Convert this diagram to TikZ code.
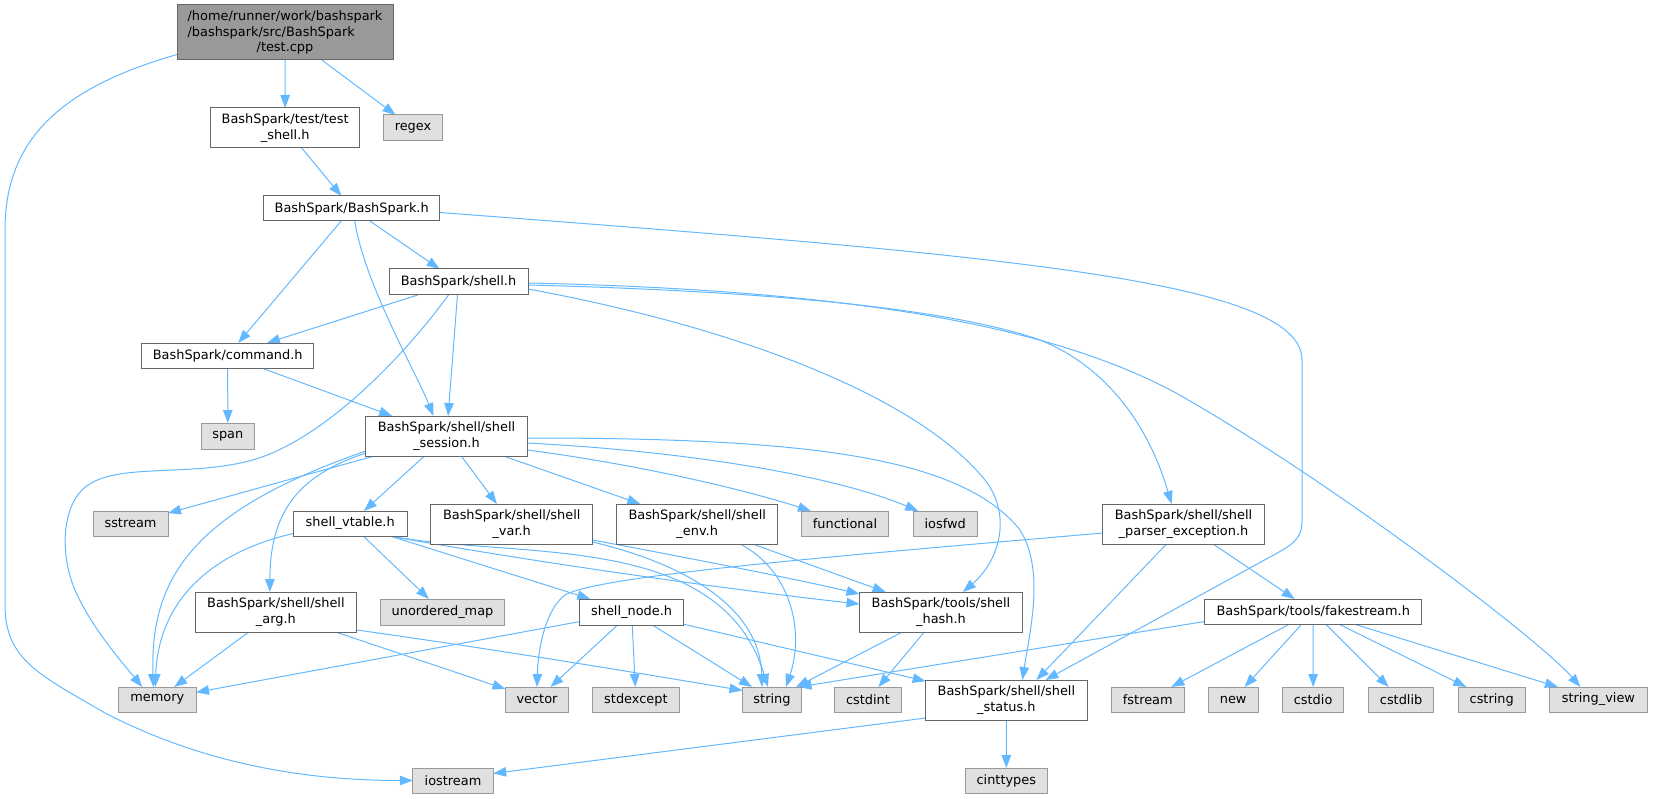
\documentclass[tikz,border=0pt]{standalone}
\usepackage{fontspec}
\setmainfont{DejaVu Sans}
\usetikzlibrary{arrows.meta}
\definecolor{edgeblue}{HTML}{63B8FF}
\definecolor{grayforty}{HTML}{666666}
\definecolor{graysixty}{HTML}{999999}
\definecolor{extfill}{HTML}{E0E0E0}
\pgfdeclarelayer{bg}
\pgfsetlayers{bg,main}
\begin{document}
\begin{tikzpicture}[x=1pt,y=-1pt,
  every node/.style={font=\fontsize{12.9}{15.4}\selectfont, inner sep=0pt, outer sep=0pt, line width=1pt, align=center},
  intf/.style={draw=grayforty, fill=white},
  extf/.style={draw=graysixty, fill=extfill},
  rootf/.style={draw=grayforty, fill=graysixty},
  wh/.style 2 args={minimum width=#1pt, minimum height=#2pt},
  dep/.style={draw=edgeblue, line width=1pt, -{Triangle[length=13pt,width=9.5pt]}}
]
\useasboundingbox (0,0) rectangle (1653,799);
% nodes
\node[rootf, wh={216}{55}] (ntest) at (285,32.5) {/home/runner/work/bashspark\\\rlap{/bashspark/src/BashSpark}\phantom{/home/runner/work/bashspark}\\/test.cpp};
\node[intf, wh={149.5}{40}] (ntestshell) at (285.2,128) {BashSpark/test/test\\\_shell.h};
\node[extf, wh={59}{26}] (nregex) at (413,128) {regex};
\node[intf, wh={176}{25}] (nbashspark) at (351.7,208.5) {BashSpark/BashSpark.h};
\node[intf, wh={139}{26}] (nshell) at (458.5,282) {BashSpark/shell.h};
\node[intf, wh={172}{25}] (ncommand) at (227.7,355.5) {BashSpark/command.h};
\node[intf, wh={161.5}{40}] (nsession) at (446.5,436) {BashSpark/shell/shell\\\_session.h};
\node[extf, wh={53.6}{26}] (nspan) at (227.8,436) {span};
\node[extf, wh={75}{25}] (nsstream) at (130.5,523.5) {sstream};
\node[intf, wh={114}{25}] (nvtable) at (350.2,523.5) {shell\_vtable.h};
\node[intf, wh={161.5}{40}] (nvar) at (511.7,524) {BashSpark/shell/shell\\\_var.h};
\node[intf, wh={161.5}{40}] (nenv) at (697.2,524) {BashSpark/shell/shell\\\_env.h};
\node[extf, wh={86.4}{25}] (nfunctional) at (845,523.5) {functional};
\node[extf, wh={64}{25}] (niosfwd) at (945.2,523.5) {iosfwd};
\node[intf, wh={161.7}{40}] (nparser) at (1183.5,524) {BashSpark/shell/shell\\\_parser\_exception.h};
\node[intf, wh={161.7}{40}] (narg) at (275.9,612) {BashSpark/shell/shell\\\_arg.h};
\node[extf, wh={124.5}{26}] (numap) at (442.5,612) {unordered\_map};
\node[intf, wh={104.6}{26}] (nsnode) at (631.6,612) {shell\_node.h};
\node[intf, wh={163}{40}] (nhash) at (941,612) {BashSpark/tools/shell\\\_hash.h};
\node[intf, wh={217}{25}] (nfake) at (1313.2,611.5) {BashSpark/tools/fakestream.h};
\node[extf, wh={77.5}{25}] (nmemory) at (157.3,699.5) {memory};
\node[extf, wh={63}{25}] (nvector) at (537,699.5) {vector};
\node[extf, wh={86.8}{25}] (nstdexcept) at (635.9,699.5) {stdexcept};
\node[extf, wh={59}{25}] (nstring) at (772,699.5) {string};
\node[extf, wh={67}{25}] (ncstdint) at (868,699.5) {cstdint};
\node[intf, wh={161.4}{40}] (nstatus) at (1006.4,700) {BashSpark/shell/shell\\\_status.h};
\node[extf, wh={73.5}{25}] (nfstream) at (1147.8,699.5) {fstream};
\node[extf, wh={49.6}{25}] (nnew) at (1233.2,699.5) {new};
\node[extf, wh={61.6}{25}] (ncstdio) at (1313.1,699.5) {cstdio};
\node[extf, wh={65}{25}] (ncstdlib) at (1401.1,699.5) {cstdlib};
\node[extf, wh={66.7}{25}] (ncstring) at (1491.7,699.5) {cstring};
\node[extf, wh={97.3}{25}] (nsview) at (1598.4,699.5) {string\_view};
\node[extf, wh={80.4}{25}] (niostream) at (453,780.5) {iostream};
\node[extf, wh={82.5}{25}] (ncinttypes) at (1006.3,780.5) {cinttypes};
% edges
\begin{pgfonlayer}{bg}
\draw[dep] ([yshift=-22]ntest.west) .. controls (60,88) and (5,140) .. (5,230) -- (5,605) .. controls (5,660) and (40,675) .. (105,713) .. controls (200,762) and (300,780.5) .. (niostream.west);
\draw[dep] (ntest) -- (ntestshell);
\draw[dep] (ntest) -- (nregex);
\draw[dep] (ntestshell) -- (nbashspark);
\draw[dep] (nbashspark) -- (ncommand);
\draw[dep] ([xshift=3]nbashspark.south) .. controls (365,285) and (415,370) .. ([xshift=-13]nsession.north);
\draw[dep] (nbashspark) -- (nshell);
\draw[dep] ([yshift=-4]nbashspark.east) .. controls (1000,255) and (1302,280) .. (1302,360) -- (1302,522) .. controls (1302,540) and (1290,546) .. (1270,557) -- ([xshift=39]nstatus.north);
\draw[dep] (nshell) -- (ncommand);
\draw[dep] ([xshift=-10]nshell.south) .. controls (405,355) and (320,445) .. (245,462) .. controls (180,477) and (110,462) .. (82,490) .. controls (62,510) and (60,555) .. (75,590) .. controls (90,625) and (120,660) .. ([xshift=-15]nmemory.north);
\draw[dep] (nshell) -- (nsession);
\draw[dep] ([yshift=-7]nshell.east) .. controls (750,330) and (920,400) .. (985,480) .. controls (1012,515) and (1000,560) .. ([xshift=22]nhash.north);
\draw[dep] ([yshift=-3]nshell.east) .. controls (800,292) and (960,312) .. (1040,340) .. controls (1110,368) and (1150,430) .. ([xshift=-12]nparser.north);
\draw[dep] ([yshift=-1]nshell.east) .. controls (850,290) and (1050,325) .. (1176,393) .. controls (1330,480) and (1540,640) .. ([xshift=-18]nsview.north);
\draw[dep] (ncommand) -- (nspan);
\draw[dep] (ncommand) -- (nsession);
\draw[dep] (nsession) -- (nsstream);
\draw[dep] ([yshift=-15]nsession.west) .. controls (190,512) and (150,580) .. ([xshift=-4]nmemory.north);
\draw[dep] ([yshift=-17]nsession.west) .. controls (300,475) and (270,510) .. ([xshift=-6]narg.north);
\draw[dep] (nsession) -- (nvtable);
\draw[dep] (nsession) -- (nvar);
\draw[dep] (nsession) -- (nenv);
\draw[dep] ([yshift=-14]nsession.east) .. controls (620,462) and (730,485) .. ([xshift=-34]nfunctional.north);
\draw[dep] ([yshift=-7]nsession.east) .. controls (700,452) and (840,478) .. ([xshift=-27]niosfwd.north);
\draw[dep] ([yshift=-2]nsession.east) .. controls (800,438) and (960,455) .. (1020,530) .. controls (1045,570) and (1030,630) .. ([xshift=16]nstatus.north);
\draw[dep] ([yshift=-10]nvtable.west) .. controls (200,555) and (158,610) .. ([xshift=-2]nmemory.north);
\draw[dep] (nvtable) -- (numap);
\draw[dep] (nvtable) -- (nsnode);
\draw[dep] ([xshift=39]nvtable.south) .. controls (520,560) and (720,530) .. ([xshift=-4]nstring.north);
\draw[dep] ([xshift=39]nvtable.south) .. controls (550,565) and (750,592) .. ([yshift=8]nhash.west);
\draw[dep] ([yshift=4]nvar.south east) .. controls (700,560) and (800,580) .. ([yshift=18]nhash.west);
\draw[dep] ([yshift=2]nvar.south east) .. controls (690,565) and (760,610) .. ([xshift=-10]nstring.north);
\draw[dep] (nenv) -- (nhash);
\draw[dep] ([xshift=43]nenv.south) .. controls (790,570) and (805,630) .. ([xshift=14]nstring.north);
\draw[dep] (narg) -- (nmemory);
\draw[dep] (narg) -- (nvector);
\draw[dep] ([yshift=-18]narg.east) .. controls (500,650) and (650,675) .. ([yshift=9]nstring.west);
\draw[dep] (nsnode) -- (nmemory);
\draw[dep] (nsnode) -- (nvector);
\draw[dep] (nsnode) -- (nstdexcept);
\draw[dep] (nsnode) -- (nstring);
\draw[dep] (nsnode) -- (nstatus);
\draw[dep] (nhash) -- (nstring);
\draw[dep] (nhash) -- (ncstdint);
\draw[dep] ([yshift=-18]nstatus.west) -- ([yshift=7]niostream.east);
\draw[dep] (nstatus) -- (ncinttypes);
\draw[dep] ([yshift=-9]nparser.west) .. controls (850,555) and (600,575) .. (565,595) .. controls (545,610) and (538,650) .. (nvector.north);
\draw[dep] ([xshift=-17]nparser.south) -- ([xshift=30]nstatus.north);
\draw[dep] (nparser) -- (nfake);
\draw[dep] ([yshift=-10]nfake.west) -- ([xshift=-3]nstring.north east);
\draw[dep] (nfake) -- (nfstream);
\draw[dep] (nfake) -- (nnew);
\draw[dep] (nfake) -- (ncstdio);
\draw[dep] (nfake) -- (ncstdlib);
\draw[dep] (nfake) -- (ncstring);
\draw[dep] (nfake) -- (nsview);
\end{pgfonlayer}
\end{tikzpicture}
\end{document}
